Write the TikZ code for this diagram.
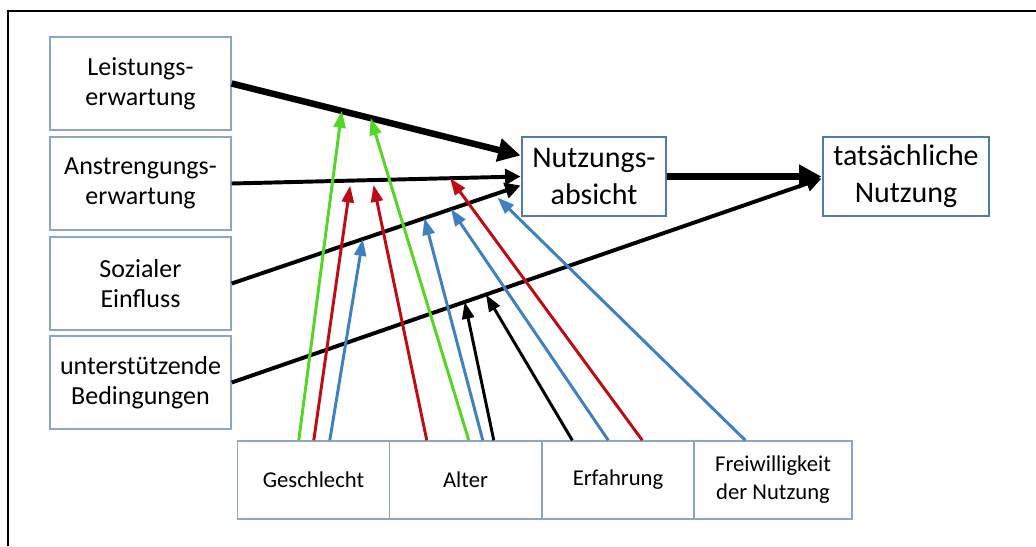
\documentclass[tikz,border=0pt]{standalone}
\usepackage{fontspec}
\setmainfont{Carlito}
\usetikzlibrary{calc,arrows.meta}
\definecolor{kastenblau}{RGB}{140,166,198}
\definecolor{zielblau}{RGB}{80,122,170}
\definecolor{modgruen}{RGB}{84,214,36}
\definecolor{modrot}{RGB}{192,10,20}
\definecolor{modblau}{RGB}{62,128,192}

\begin{document}
\begin{tikzpicture}[x=0.025cm,y=-0.025cm,
  konstrukt/.style={draw=kastenblau,line width=1pt,minimum width=4.525cm,minimum height=2.325cm,align=center,font=\fontsize{18.5}{21.3}\selectfont},
  ziel/.style={draw=zielblau,line width=2pt,minimum height=1.975cm,align=center,font=\fontsize{21.3}{26.3}\selectfont},
  moderator/.style={draw=kastenblau,line width=1pt,minimum width=3.8cm,minimum height=1.95cm,align=center,font=\fontsize{16.1}{19.9}\selectfont},
  haupt/.style={line width=4.6pt,-{Triangle[length=16pt,width=16pt]}},
  mittel/.style={line width=2.8pt,-{Triangle[length=11pt,width=11pt]}},
  modpfeil/.style={line width=2.1pt,-{Triangle[length=12pt,width=8.5pt]}}]
\useasboundingbox (0,0) rectangle (1036,546);
\draw[line width=1.4pt] (8,546) |- (1036,11);

% Konstrukte links
\node[konstrukt] (le) at (140.5,83.5) {Leistungs-\\erwartung};
\node[konstrukt] (ae) at (140.5,183.5) {Anstrengungs-\\erwartung};
\node[konstrukt] (se) at (140.5,283.5) {Sozialer\\Einfluss};
\node[konstrukt] (ub) at (140.5,382.5) {unterstützende\\Bedingungen};
\node[ziel,minimum width=3.6cm] (na) at (594,176.5) {Nutzungs-\\absicht};
\node[ziel,minimum width=4.15cm] (tn) at (906,176.5) {tatsächliche\\Nutzung};

% Moderatoren unten
\node[moderator] (ge) at (313.5,480) {Geschlecht};
\node[moderator] (al) at (465.5,480) {Alter};
\node[moderator] (er) at (618,480) {Erfahrung};
\node[moderator,minimum width=3.95cm] (fw) at (773,480) {Freiwilligkeit\\der Nutzung};

% Hauptpfade
\draw[haupt] (le.east) -- ($(na.west)+(0,-21)$) coordinate[pos=0.381] (g1) coordinate[pos=0.481] (g2);
\draw[mittel] (ae.east) -- (na.west) coordinate[pos=0.41,yshift=-3.5pt] (r1) coordinate[pos=0.491,yshift=-3.5pt] (r2) coordinate[pos=0.756] (r3);
\draw[mittel] (se.east) -- ($(na.west)+(0,9)$) coordinate[pos=0.454] (b1) coordinate[pos=0.667] (b2) coordinate[pos=0.759] (b3) coordinate[pos=0.92,yshift=-3pt] (b4);
\draw[haupt] (na) -- (tn);
\draw[mittel] (ub.east) -- ($(tn.west)+(0,2)$) coordinate[pos=0.395] (k1) coordinate[pos=0.431] (k2);

% Moderatoreffekte
\draw[modpfeil,modgruen] ($(ge.north west)+(62,0)$) -- (g1);
\draw[modpfeil,modrot] ($(ge.north west)+(77,0)$) -- (r1);
\draw[modpfeil,modblau] ($(ge.north west)+(93,0)$) -- (b1);
\draw[modpfeil,modrot] ($(al.north west)+(38,0)$) -- (r2);
\draw[modpfeil,modgruen] ($(al.north west)+(80,0)$) -- (g2);
\draw[modpfeil,modblau] ($(al.north west)+(94,0)$) -- (b2);
\draw[modpfeil] ($(al.north west)+(105,0)$) -- (k1);
\draw[modpfeil] ($(er.north west)+(31,0)$) -- (k2);
\draw[modpfeil,modblau] ($(er.north west)+(67,0)$) -- (b3);
\draw[modpfeil,modrot] ($(er.north west)+(101,0)$) -- (r3);
\draw[modpfeil,modblau] ($(fw.north west)+(52,0)$) -- (b4);
\end{tikzpicture}
\end{document}
